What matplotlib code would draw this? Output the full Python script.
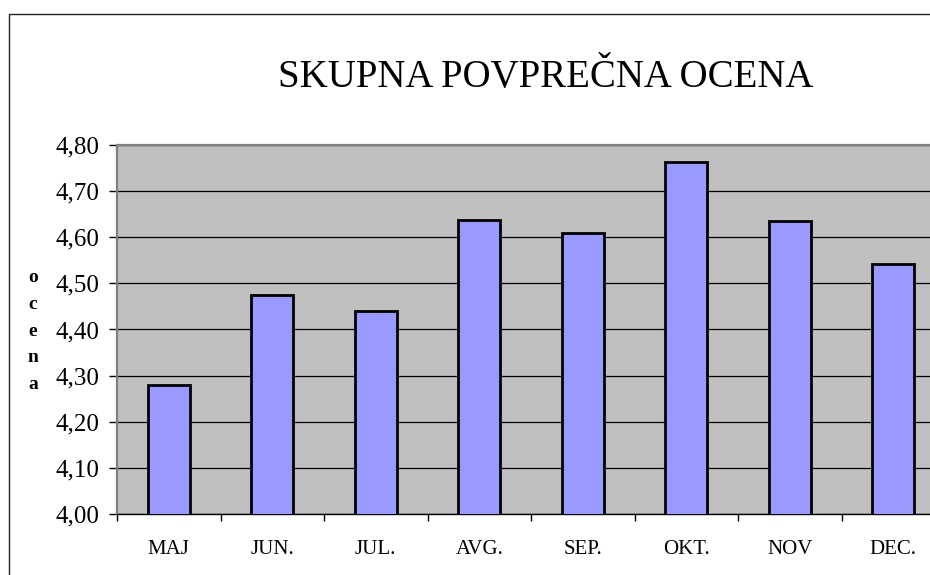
import matplotlib
matplotlib.use("Agg")
import matplotlib.pyplot as plt
from matplotlib.patches import Rectangle
from matplotlib.ticker import FixedLocator, FuncFormatter

# data
months = ["MAJ", "JUN.", "JUL.", "AVG.", "SEP.", "OKT.", "NOV", "DEC."]
ocena = [4.28, 4.475, 4.44, 4.638, 4.61, 4.763, 4.635, 4.542]
y_ticks = [4.0, 4.1, 4.2, 4.3, 4.4, 4.5, 4.6, 4.7, 4.8]

plt.rcParams['font.family'] = ['Liberation Serif', 'DejaVu Serif']

W, H = 930, 575
fig = plt.figure(figsize=(W / 100, H / 100), dpi=100)

# outer chart frame (right and bottom fall outside the picture)
fig.patches.append(Rectangle((9 / W, -0.1), 1.2, (H - 14) / H + 0.1,
                             transform=fig.transFigure, fill=False,
                             edgecolor='#222222', linewidth=1.0))

# plot area: spans past the right edge like the reference
left, right, top, bottom = 117, 945, 145, 514
ax = fig.add_axes([left / W, (H - bottom) / H, (right - left) / W, (bottom - top) / H])
ax.set_facecolor('#C0C0C0')

x = [i + 0.5 for i in range(len(months))]
ax.bar(x, ocena, width=0.41, color='#9999FF', edgecolor='black', linewidth=2.0, zorder=3)

ax.set_xlim(0, len(months))
ax.set_ylim(4.0, 4.8)
ax.set_yticks(y_ticks)
ax.yaxis.set_major_formatter(FuncFormatter(lambda v, p: f"{v:.2f}".replace('.', ',')))
ax.grid(axis='y', color='black', linewidth=0.9, zorder=1)
ax.set_axisbelow(True)

# category boundaries get the tick marks, centres get the labels
ax.xaxis.set_major_locator(FixedLocator(range(len(months) + 1)))
ax.xaxis.set_minor_locator(FixedLocator(x))
ax.set_xticklabels([''] * (len(months) + 1))
ax.set_xticklabels(months, minor=True)
ax.tick_params(axis='x', which='major', length=5, width=1, color='black', direction='out')
ax.tick_params(axis='x', which='minor', length=0, pad=19, labelsize=15)
ax.tick_params(axis='y', length=6, width=1, color='black', direction='out', pad=7, labelsize=18)

for s in ['top', 'left', 'right']:
    ax.spines[s].set_color('#808080')
    ax.spines[s].set_linewidth(1.6)
ax.spines['bottom'].set_color('black')
ax.spines['bottom'].set_linewidth(1.0)

fig.text(546 / W, (H - 87) / H, "SKUPNA POVPREČNA OCENA", fontsize=28,
         ha='center', va='baseline')

fig.text(33 / W, (H - 331) / H, "o\nc\ne\nn\na", fontsize=14, fontweight='bold',
         ha='center', va='center', linespacing=1.75, multialignment='center')

fig.savefig("out.png", dpi=100)
